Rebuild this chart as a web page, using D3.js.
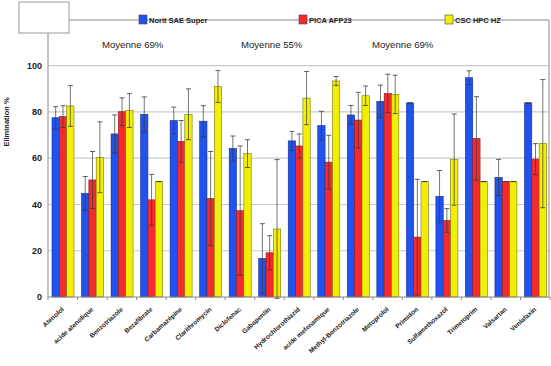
<!DOCTYPE html>
<html>
<head>
<meta charset="utf-8">
<script src="https://cdn.jsdelivr.net/npm/d3@7"></script>
<style>
  body { margin: 0; background: #fff; }
  svg { display: block; font-family: "Liberation Sans", Arial, sans-serif; }
</style>
</head>
<body>
<script>
// Categories (substances)
var categories = ["Atenolol", "acide atenolique", "Benzotriazole", "Bezafibrate", "Carbamazépine",
  "Clarithromycin", "Diclofenac", "Gabapentin", "Hydrochlorothiazid", "acide mefenamique",
  "Methyl-Benzotriazole", "Metoprolol", "Primidon", "Sulfamethoxazol", "Trimetoprim", "Valsartan", "Venlafaxin"];

// Series names
var seriesNames = ["Norit SAE Super", "PICA AFP23", "CSC HPC HZ"];

// Elimination % per series
var noritValues = [77.5, 44.8, 70.5, 79, 76.3, 76, 64.2, 16.7, 67.5, 74.1, 78.7, 84.6, 83.9, 43.5, 94.8, 51.7, 83.9];
var picaValues  = [78, 50.6, 80.1, 42, 67.3, 42.6, 37.3, 19.1, 65.3, 58.3, 76.5, 88, 25.9, 33.1, 68.6, 49.9, 59.6];
var cscValues   = [82.6, 60.4, 80.6, 49.9, 79, 91, 62, 29.4, 86, 93.4, 87, 87.6, 49.9, 59.4, 49.9, 49.9, 66.3];

// Error (+/-) per series
var noritErr = [4.8, 7.3, 8.2, 7.5, 5.8, 6.7, 5.4, 15, 4.1, 6.2, 4.1, 7, 0, 11.2, 3, 7.8, 0];
var picaErr  = [4.7, 12.3, 6, 11, 9, 20.3, 28, 7.4, 5.2, 11.6, 12, 8.3, 25, 5.1, 18, 0, 6.7];
var cscErr   = [8.8, 15.3, 7.3, 0, 11, 6.9, 6, 30, 11.5, 1.9, 4.2, 8.3, 0, 19.7, 0, 0, 27.7];

// Group means shown above
var meanLabels = ["Moyenne 69%", "Moyenne 55%", "Moyenne 69%"];

var yTicks = [0, 20, 40, 60, 80, 100];
var colors = ["#1f52ee", "#f42a2e", "#f2ee06"];
var strokes = ["#1a2f8a", "#8a1a1a", "#7a7a10"];

var W = 551, H = 366;
var plotLeft = 48, plotRight = 550, plotTop = 20, plotBottom = 297;

var svg = d3.select("body").append("svg")
  .attr("width", W).attr("height", H);

// Scales
var x = d3.scaleBand().domain(categories).range([plotLeft, plotRight]).padding(0);
var xSub = d3.scaleBand().domain(seriesNames).range([4, 26]).padding(0);
var y = d3.scaleLinear().domain([0, 100]).range([plotBottom, 65.7]);

// Build rows from arrays
var series = [
  { name: seriesNames[0], values: noritValues, err: noritErr, i: 0 },
  { name: seriesNames[1], values: picaValues, err: picaErr, i: 1 },
  { name: seriesNames[2], values: cscValues, err: cscErr, i: 2 }
];

// Gridlines
svg.append("g")
  .selectAll("line")
  .data(yTicks.filter(function(d) { return d > 0; }))
  .enter()
  .append("line")
    .attr("x1", plotLeft).attr("x2", plotRight - 1)
    .attr("y1", function(d) { return y(d); })
    .attr("y2", function(d) { return y(d); })
    .attr("stroke", "#c4cccc")
    .attr("stroke-width", 1.2);

// Frame
svg.append("path")
  .attr("d", "M" + plotLeft + "," + plotBottom + "V" + plotTop + "H" + (plotRight - 1) + "V" + plotBottom)
  .attr("fill", "none")
  .attr("stroke", "#8a8a8a")
  .attr("stroke-width", 1);

// Y axis tick labels
svg.append("g")
  .selectAll("text")
  .data(yTicks)
  .enter()
  .append("text")
    .attr("x", 42)
    .attr("y", function(d) { return y(d) + 3.2; })
    .attr("text-anchor", "end")
    .attr("font-size", "9px")
    .attr("font-weight", "bold")
    .attr("fill", "#222")
    .text(function(d) { return d; });

// Y axis title
svg.append("text")
  .attr("transform", "translate(9,122) rotate(-90)")
  .attr("text-anchor", "middle")
  .attr("font-size", "7.5px")
  .attr("font-weight", "bold")
  .attr("fill", "#222")
  .text("Elimination %");

// Bars
var groups = svg.append("g")
  .selectAll("g")
  .data(series)
  .enter()
  .append("g");

function rows(s) {
  return s.values.map(function(v, k) { return { cat: categories[k], v: v, e: s.err[k], s: s }; });
}

groups.selectAll("rect")
  .data(rows)
  .enter()
  .append("rect")
    .attr("x", function(d) { return x(d.cat) + xSub(d.s.name); })
    .attr("y", function(d) { return y(d.v); })
    .attr("width", xSub.bandwidth())
    .attr("height", function(d) { return y(0) - y(d.v); })
    .attr("fill", function(d) { return colors[d.s.i]; })
    .attr("stroke", function(d) { return strokes[d.s.i]; })
    .attr("stroke-width", 0.6);

// Error bars
var errs = groups.selectAll("g.err")
  .data(rows)
  .enter()
  .append("g")
    .attr("class", "err")
    .attr("transform", function(d) { return "translate(" + (x(d.cat) + xSub(d.s.name) + xSub.bandwidth() / 2) + ",0)"; });

errs.append("line")
  .attr("y1", function(d) { return y(d.v + d.e); })
  .attr("y2", function(d) { return y(Math.max(d.v - d.e, -1)); })
  .attr("stroke", "#3a3a3a")
  .attr("stroke-opacity", 0.7)
  .attr("stroke-width", 1);

errs.append("line")
  .attr("x1", -2.5).attr("x2", 2.5)
  .attr("y1", function(d) { return y(d.v + d.e); })
  .attr("y2", function(d) { return y(d.v + d.e); })
  .attr("stroke", "#3a3a3a")
  .attr("stroke-opacity", 0.8)
  .attr("stroke-width", 1);

errs.append("line")
  .attr("x1", -2.5).attr("x2", 2.5)
  .attr("y1", function(d) { return y(Math.max(d.v - d.e, -1)); })
  .attr("y2", function(d) { return y(Math.max(d.v - d.e, -1)); })
  .attr("stroke", "#3a3a3a")
  .attr("stroke-opacity", 0.8)
  .attr("stroke-width", 1);

// Bottom axis line + ticks
svg.append("line")
  .attr("x1", plotLeft).attr("x2", plotRight)
  .attr("y1", plotBottom).attr("y2", plotBottom)
  .attr("stroke", "#8a8a8a");

svg.append("g")
  .selectAll("line")
  .data(categories.concat(["end"]))
  .enter()
  .append("line")
    .attr("x1", function(d, i) { return plotLeft + i * x.step(); })
    .attr("x2", function(d, i) { return plotLeft + i * x.step(); })
    .attr("y1", plotBottom).attr("y2", plotBottom + 3)
    .attr("stroke", "#8a8a8a");

// X labels
svg.append("g")
  .selectAll("text")
  .data(categories)
  .enter()
  .append("text")
    .attr("transform", function(d) { return "translate(" + (x(d) + x.bandwidth() / 2 + 1.5) + "," + (plotBottom + 13) + ") rotate(-42)"; })
    .attr("text-anchor", "end")
    .attr("font-size", "6.5px")
    .attr("font-weight", "bold")
    .attr("fill", "#222")
    .text(function(d) { return d; });

// Mean labels
var meanX = [102, 241, 372];
svg.append("g")
  .selectAll("text")
  .data(meanLabels)
  .enter()
  .append("text")
    .attr("x", function(d, i) { return meanX[i]; })
    .attr("y", 47.5)
    .attr("font-size", "9.6px")
    .attr("fill", "#222")
    .text(function(d) { return d; });

// Corner box
svg.append("rect")
  .attr("x", 19).attr("y", 2)
  .attr("width", 50).attr("height", 31)
  .attr("fill", "#fff")
  .attr("stroke", "#9a9a9a");

// Legend sitting on the top frame line
var legendX = [139, 299, 445];
var leg = svg.append("g")
  .selectAll("g")
  .data(seriesNames)
  .enter()
  .append("g")
    .attr("transform", function(d, i) { return "translate(" + legendX[i] + ",0)"; });

leg.append("rect")
  .attr("x", 0).attr("y", 15)
  .attr("width", 8).attr("height", 9)
  .attr("fill", function(d, i) { return colors[i]; })
  .attr("stroke", "#444")
  .attr("stroke-width", 0.6);

leg.append("text")
  .attr("x", 10).attr("y", 22.5)
  .attr("font-size", "7.5px")
  .attr("font-weight", "bold")
  .attr("fill", "#222")
  .text(function(d) { return d; });
</script>
</body>
</html>
